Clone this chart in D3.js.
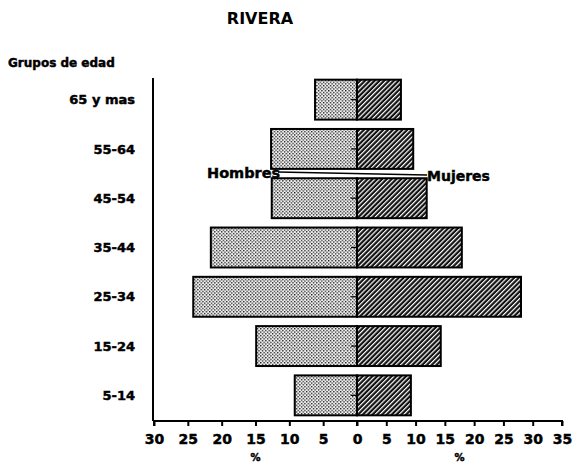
<!DOCTYPE html>
<html><head><meta charset="utf-8">
<script src="https://cdn.jsdelivr.net/npm/d3@7"></script>
<style>body{margin:0;background:#fff}svg text{font-family:"DejaVu Sans",sans-serif;font-weight:bold;fill:#000}
.heavy{stroke:#000;stroke-width:0.45px}</style>
</head><body><svg id="c" width="573" height="463"></svg>
<script>
const categories = ["65 y mas","55-64","45-54","35-44","25-34","15-24","5-14"];
const hombres = [6.2, 12.7, 12.6, 21.6, 24.2, 14.9, 9.2];
const mujeres = [7.5, 9.6, 11.9, 17.9, 28.0, 14.3, 9.2];
const leftTicks = [30,25,20,15,10,5,0];
const rightTicks = [5,10,15,20,25,30,35];

const svg = d3.select("#c");
const defs = svg.append("defs");
const dots = defs.append("pattern").attr("id","dots").attr("patternUnits","userSpaceOnUse").attr("width",3.4).attr("height",3.4);
dots.append("rect").attr("width",3.4).attr("height",3.4).attr("fill","#f2f2f2");
dots.append("rect").attr("x",0).attr("y",0).attr("width",1.3).attr("height",1.3).attr("fill","#111");
dots.append("rect").attr("x",1.7).attr("y",1.7).attr("width",1.3).attr("height",1.3).attr("fill","#111");
const hatch = defs.append("pattern").attr("id","hatch").attr("patternUnits","userSpaceOnUse").attr("width",3.4).attr("height",10).attr("patternTransform","rotate(45)");
hatch.append("rect").attr("width",3.4).attr("height",10).attr("fill","#111");
hatch.append("rect").attr("x",0).attr("y",0).attr("width",1.2).attr("height",10).attr("fill","#fff");

const x0 = 357;
const xL = d3.scaleLinear().domain([0,30]).range([x0,154]);
const xR = d3.scaleLinear().domain([0,35]).range([x0,562]);
const y = d3.scaleBand().domain(categories).range([75,420]).paddingInner(0.19).paddingOuter(0.095);
const axisY = 421;

svg.append("text").attr("x",260).attr("y",24).attr("text-anchor","middle").style("font-size","16px").text("RIVERA");
svg.append("text").attr("x",8).attr("y",67).attr("class","heavy").style("font-size","12px").text("Grupos de edad");

svg.append("line").attr("x1",153).attr("x2",153).attr("y1",78).attr("y2",axisY).attr("stroke","#000").attr("stroke-width",2);

svg.selectAll(".cat").data(categories).join("text").attr("class","cat heavy")
  .attr("x",135).attr("y",d=>y(d)+y.bandwidth()/2).attr("dy","0.36em")
  .attr("text-anchor","end").style("font-size","13px").text(d=>d);

const rows = categories.map((c,i)=>({c,h:hombres[i],m:mujeres[i]}));
svg.selectAll(".bh").data(rows).join("rect").attr("class","bh")
  .attr("x",d=>xL(d.h)).attr("y",d=>y(d.c)).attr("width",d=>xL(0)-xL(d.h)).attr("height",y.bandwidth())
  .attr("fill","url(#dots)").attr("stroke","#000").attr("stroke-width",2);
svg.selectAll(".bm").data(rows).join("rect").attr("class","bm")
  .attr("x",xR(0)).attr("y",d=>y(d.c)).attr("width",d=>xR(d.m)-xR(0)).attr("height",y.bandwidth())
  .attr("fill","url(#hatch)").attr("stroke","#000").attr("stroke-width",2);
svg.selectAll(".ct").data(categories).join("line").attr("class","ct")
  .attr("x1",xL(0)-6).attr("x2",xL(0)).attr("y1",d=>y(d)+y.bandwidth()/2).attr("y2",d=>y(d)+y.bandwidth()/2)
  .attr("stroke","#000").attr("stroke-width",1.2);

const gL = svg.append("g").attr("transform",`translate(0,${axisY})`)
  .call(d3.axisBottom(xL).tickValues(leftTicks).tickSize(5).tickPadding(8).tickFormat(d3.format("d")));
const gR = svg.append("g").attr("transform",`translate(0,${axisY})`)
  .call(d3.axisBottom(xR).tickValues(rightTicks).tickSize(5).tickPadding(8).tickFormat(d3.format("d")));
[gL,gR].forEach(g=>{
  g.select(".domain").attr("stroke","#000").attr("stroke-width",2);
  g.selectAll(".tick line").attr("stroke","#000").attr("stroke-width",2);
  g.selectAll(".tick text").attr("class","heavy").style("font-size","14px").style("font-family","DejaVu Sans").style("font-weight","bold").attr("fill","#000");
});
gR.select(".domain").attr("d",`M${xR(0)},5V0H${xR(35)}V5`);
gL.select(".domain").attr("d",`M${xL(30)},5V0H${xL(0)}V0`);

svg.append("text").attr("x",xL(15)).attr("y",461).attr("class","heavy").attr("text-anchor","middle").style("font-size","10px").text("%");
svg.append("text").attr("x",xR(17.5)).attr("y",461).attr("class","heavy").attr("text-anchor","middle").style("font-size","10px").text("%");

svg.append("line").attr("x1",278).attr("y1",172).attr("x2",427).attr("y2",175).attr("stroke","#000").attr("stroke-width",1.5);
svg.append("text").attr("x",207).attr("y",178).attr("class","heavy").style("font-size","14.5px").text("Hombres");
svg.append("text").attr("x",427).attr("y",181).attr("class","heavy").style("font-size","14px").text("Mujeres");
</script></body></html>
